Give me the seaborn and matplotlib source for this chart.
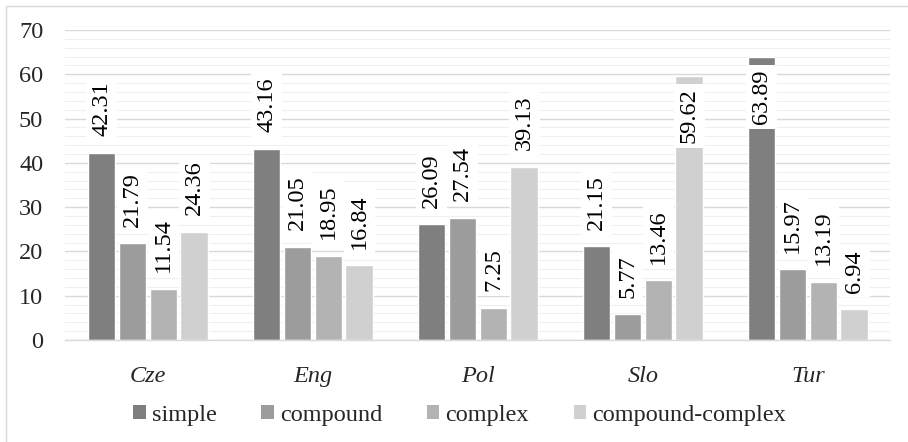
import matplotlib
matplotlib.use("Agg")
import matplotlib.pyplot as plt
from matplotlib.patches import Patch, Rectangle
from matplotlib.ticker import MultipleLocator
import pandas as pd
import seaborn as sns

# Sentence-type shares (%) per language
languages = ["Cze", "Eng", "Pol", "Slo", "Tur"]
sentence_types = ["simple", "compound", "complex", "compound-complex"]
simple = [42.31, 43.16, 26.09, 21.15, 63.89]
compound = [21.79, 21.05, 27.54, 5.77, 15.97]
complex_ = [11.54, 18.95, 7.25, 13.46, 13.19]
compound_complex = [24.36, 16.84, 39.13, 59.62, 6.94]
y_ticks = [0, 10, 20, 30, 40, 50, 60, 70]

series = [simple, compound, complex_, compound_complex]
df = pd.DataFrame(
    [(lang, stype, vals[i])
     for stype, vals in zip(sentence_types, series)
     for i, lang in enumerate(languages)],
    columns=["language", "type", "share"],
)

colors = ["#7f7f7f", "#9c9c9c", "#b3b3b3", "#d0d0d0"]
palette = dict(zip(sentence_types, colors))

sns.set_theme(style="white")
plt.rcParams["font.family"] = ["Liberation Serif", "DejaVu Serif"]
FS = 17.5
plt.rcParams["font.size"] = FS

fig = plt.figure(figsize=(9.08, 4.42), dpi=100)
ax = fig.add_axes([0.0721, 0.2308, 0.9086, 0.7013])

sns.barplot(
    data=df, x="language", y="share", hue="type", order=languages,
    hue_order=sentence_types, palette=palette, width=0.75, gap=0.1,
    saturation=1, legend=False, ax=ax, errorbar=None,
)

ax.set_ylim(0, 70)
ax.set_xlim(-0.5, len(languages) - 0.5)
ax.set_yticks(y_ticks)
ax.yaxis.set_minor_locator(MultipleLocator(2))
ax.set_axisbelow(True)
ax.grid(axis="y", which="major", color="#d9d9d9", linewidth=1.0)
ax.grid(axis="y", which="minor", color="#efefef", linewidth=0.8)
ax.grid(axis="x", visible=False)
for side in ["left", "right", "top"]:
    ax.spines[side].set_visible(False)
ax.spines["bottom"].set_color("#d9d9d9")
ax.spines["bottom"].set_linewidth(1.0)
ax.tick_params(axis="both", which="both", length=0)
ax.tick_params(axis="y", pad=16, labelsize=FS)
ax.tick_params(axis="x", pad=19, labelsize=FS)
for lbl in ax.get_xticklabels():
    lbl.set_fontstyle("italic")
ax.set_xlabel("")
ax.set_ylabel("")

# Value labels: above the bar, or tucked inside its top when there is no room
label_room = 15
for container, vals in zip(ax.containers, series):
    for bar, v in zip(container, vals):
        x = bar.get_x() + bar.get_width() / 2
        inside = v + label_room > 70
        ax.annotate(
            f"{v:.2f}", (x, v),
            xytext=(0, -9 if inside else 12), textcoords="offset points",
            rotation=90, ha="center", va="top" if inside else "bottom",
            fontsize=FS, color="black",
            bbox=dict(boxstyle="square,pad=0.2", fc="white", ec="none"),
        )

handles = [Patch(facecolor=c, edgecolor="none") for c in colors]
fig.legend(
    handles, sentence_types, loc="center", bbox_to_anchor=(0.506, 0.06),
    ncol=4, frameon=False, fontsize=FS, handlelength=0.5, handleheight=0.5,
    handletextpad=0.25, columnspacing=1.85,
)

fig.patches.append(Rectangle(
    (6 / 908, -0.1), 1.2, 1.1 - 6 / 442, transform=fig.transFigure,
    fill=False, edgecolor="#d9d9d9", linewidth=1.0, clip_on=False,
))

fig.savefig("out.png", dpi=100)
